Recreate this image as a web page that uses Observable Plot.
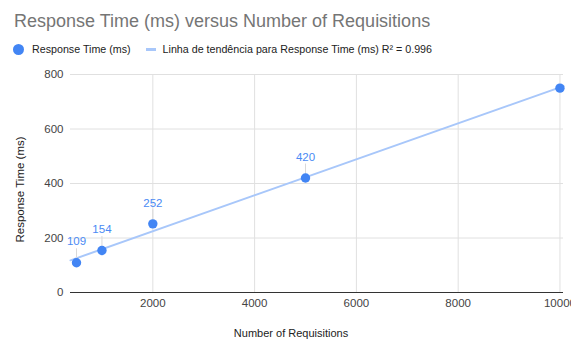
<!DOCTYPE html>
<html>
<head>
<meta charset="utf-8">
<script src="https://cdn.jsdelivr.net/npm/d3@7"></script>
<script src="https://cdn.jsdelivr.net/npm/@observablehq/plot@0.6"></script>
<style>
  html, body { margin: 0; padding: 0; background: #fff; }
  body { width: 571px; height: 340px; overflow: hidden; font-family: "Liberation Sans", Arial, sans-serif; }
  #header { position: relative; height: 60px; }
  #title { position: absolute; left: 14px; top: 12px; font-size: 18px; line-height: 1; color: #757575; white-space: nowrap; }
  #legend { position: absolute; left: 13px; top: 43px; height: 12px; font-size: 10.7px; line-height: 1; color: #222; white-space: nowrap; display: flex; align-items: center; }
  .dot { display: inline-block; width: 11px; height: 11px; border-radius: 50%; background: #4285f4; margin-right: 8px; }
  .swatch { display: inline-block; width: 10px; height: 3px; background: #a8c7fa; margin-left: 15px; margin-right: 7px; }
  #chart svg { display: block; }
</style>
</head>
<body>
<div id="header">
  <div id="title">Response Time (ms) versus Number of Requisitions</div>
  <div id="legend"><span class="dot"></span><span>Response Time (ms)</span><span class="swatch"></span><span id="trendLabel"></span></div>
</div>
<div id="chart"></div>
<script>
// Number of requisitions sent and the measured response time for each run
const requisitions = [500, 1000, 2000, 5000, 10000];
const responseTimes = [109, 154, 252, 420, 750];
const xTicks = [2000, 4000, 6000, 8000, 10000];
const yTicks = [0, 200, 400, 600, 800];
const xDomain = [382, 10070];

const data = requisitions.map((x, i) => ({x, y: responseTimes[i]}));

// Least-squares trend line and its coefficient of determination
const mx = d3.mean(data, d => d.x), my = d3.mean(data, d => d.y);
const sxy = d3.sum(data, d => (d.x - mx) * (d.y - my));
const sxx = d3.sum(data, d => (d.x - mx) ** 2);
const syy = d3.sum(data, d => (d.y - my) ** 2);
const slope = sxy / sxx, intercept = my - slope * mx;
const r2 = (sxy * sxy) / (sxx * syy);
const trend = xDomain.map(x => ({x, y: intercept + slope * x}));

document.getElementById("trendLabel").textContent =
  `Linha de tendência para Response Time (ms) R² = ${r2.toFixed(3)}`;

// The point at the top right has no value label
const labelled = data.slice(0, -1);

const plain = d => String(d);

const chart = Plot.plot({
  width: 571,
  height: 280,
  marginTop: 14,
  marginBottom: 48,
  marginLeft: 70,
  marginRight: 8,
  style: {fontFamily: "'Liberation Sans', Arial, sans-serif", fontSize: "11.5px", color: "#444", background: "#fff"},
  x: {domain: xDomain},
  y: {domain: [0, 800]},
  marks: [
    Plot.gridY(yTicks.slice(1), {stroke: "#e0e0e0", strokeOpacity: 1}),
    Plot.gridX(xTicks, {stroke: "#e0e0e0", strokeOpacity: 1}),
    Plot.axisY(yTicks, {tickSize: 0, tickPadding: 7, label: null, fill: "#444", tickFormat: plain}),
    Plot.axisX(xTicks, {tickSize: 0, tickPadding: 6, label: null, fill: "#444", tickFormat: plain}),
    Plot.ruleY([0], {stroke: "#333", strokeWidth: 1}),
    Plot.line(trend, {x: "x", y: "y", stroke: "#a8c7fa", strokeWidth: 2}),
    Plot.ruleX(labelled, {x: "x", y1: "y", y2: "y", insetTop: -14, stroke: "#d9d9d9", strokeWidth: 1}),
    Plot.dot(data, {x: "x", y: "y", r: 4.7, fill: "#4285f4", stroke: null}),
    Plot.text(labelled, {x: "x", y: "y", text: d => String(d.y), dy: -21, fill: "#4a8af4", fontSize: 11.5}),
    Plot.text(["Number of Requisitions"], {frameAnchor: "bottom", dx: -26, dy: 44, fill: "#222", fontSize: 11}),
    Plot.text(["Response Time (ms)"], {frameAnchor: "left", textAnchor: "middle", lineAnchor: "middle", rotate: -90, dx: -50, dy: 6, fill: "#222", fontSize: 11.5})
  ]
});
document.getElementById("chart").append(chart);
</script>
</body>
</html>
